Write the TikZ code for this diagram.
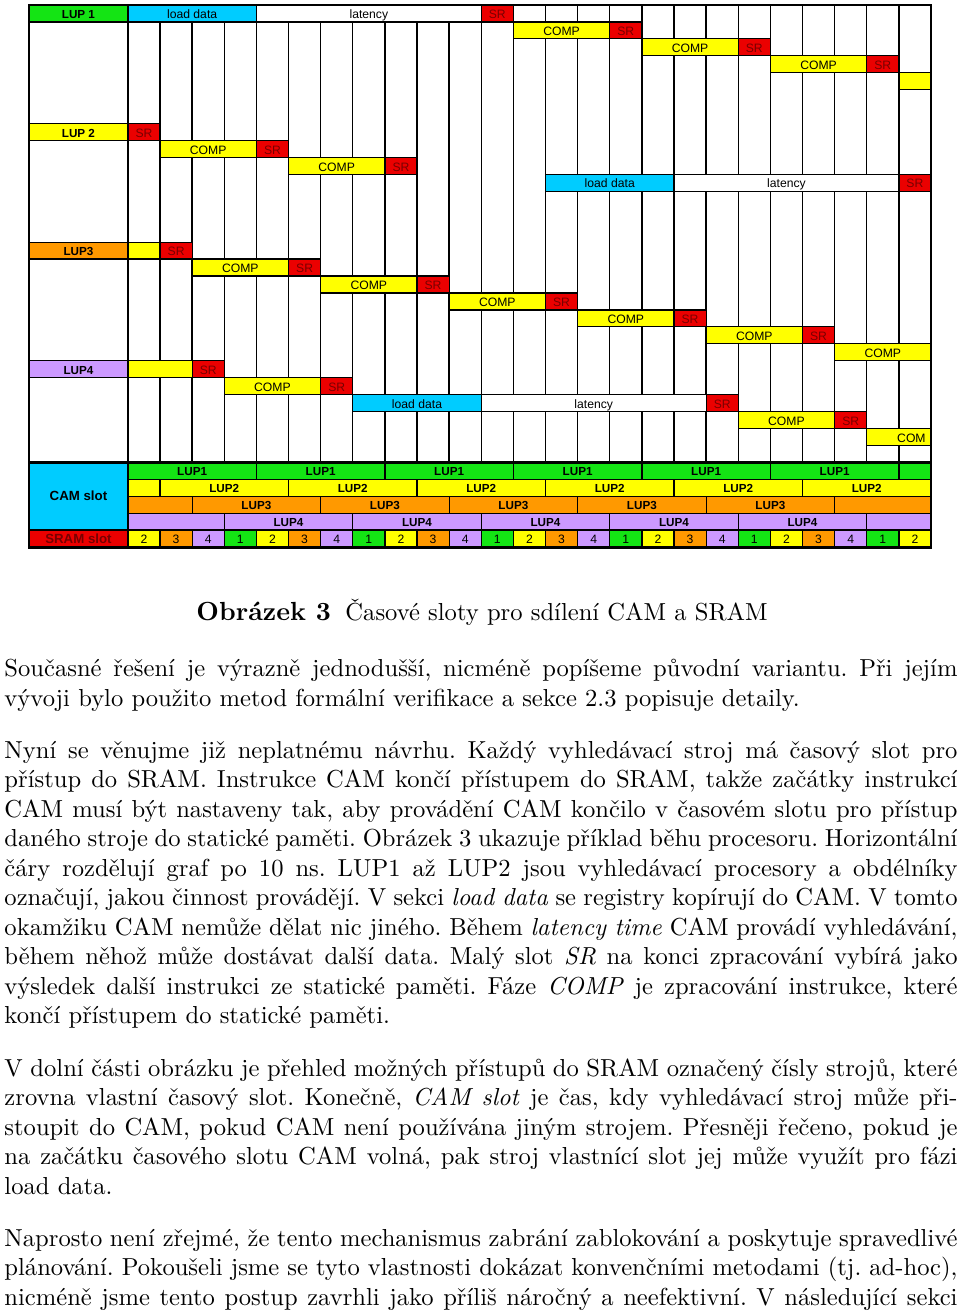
\documentclass[tikz,border=0pt]{standalone}
\usepackage{fontspec}
\newfontfamily\arialf{Liberation Sans}
\definecolor{cgreen}{RGB}{20,228,20}
\definecolor{ccyan}{RGB}{0,204,255}
\definecolor{cyellow}{RGB}{255,255,0}
\definecolor{corange}{RGB}{255,153,0}
\definecolor{cpurple}{RGB}{204,153,255}
\definecolor{cred}{RGB}{235,0,0}
\definecolor{srtext}{RGB}{120,0,0}
\colorlet{sc1}{cgreen}
\colorlet{sc2}{cyellow}
\colorlet{sc3}{corange}
\colorlet{sc4}{cpurple}
\newlength\tw
\setlength\tw{387.7pt}
\def\L{-3.079}
\tikzset{
  barsty/.style={draw=black, line width=0.5pt},
  gridsty/.style={draw=black, line width=0.55pt},
  bf/.style={font=\arialf\fontsize{4.95}{5}\selectfont, inner sep=0pt, text=black, anchor=base},
  lf/.style={font=\arialf\bfseries\fontsize{4.75}{5}\selectfont, inner sep=0pt, text=black, anchor=base},
  cf/.style={font=\arialf\bfseries\fontsize{5.4}{6}\selectfont, inner sep=0pt, text=black},
  txt/.style={anchor=base west, inner sep=0pt, font=\fontsize{10}{12}\selectfont},
}
% bar: name, row, col1, col2, fill, text
\newcommand{\gb}[6]{\path[barsty,fill=#5] (#3,#2) rectangle (#4,#2+1);
  \node[bf] (#1) at ({(#3+#4)/2},#2+0.8) {#6};}
\newcommand{\eb}[4]{\path[barsty,fill=#4] (#2,#1) rectangle (#3,#1+1);}
\newcommand{\srb}[3]{\path[barsty,fill=cred] (#3,#2) rectangle (#3+1,#2+1);
  \node[bf,text=srtext] (#1) at (#3+0.5,#2+0.8) {SR};}
\newcommand{\lab}[4]{\path[barsty,fill=#3] (\L,#2) rectangle (0,#2+1);
  \node[lf] (#1) at (\L/2,#2+0.8) {#4};}
\newcommand{\txtline}[4]{\node[txt] (#1) at (4,#2+3) {\makebox[\tw][#3]{#4}};}
\begin{document}
\frenchspacing
\begin{tikzpicture}[x=0.4068pt,y=-0.4068pt]
\useasboundingbox (0,0) rectangle (960,1313);
\begin{scope}[shift={(127.9,5)}, x=13.068pt, y=-6.891pt]
  % grid
  \foreach \j in {1,...,24} \draw[gridsty] (\j,0) -- (\j,27);
  % LUP1
  \lab{l1}{0}{cgreen}{LUP 1}
  \gb{l1ld}{0}{0}{4}{ccyan}{load data}
  \gb{l1lat}{0}{4}{11}{white}{latency}
  \srb{l1sr0}{0}{11}
  \gb{l1c1}{1}{12}{15}{cyellow}{COMP}
  \srb{l1sr1}{1}{15}
  \gb{l1c2}{2}{16}{19}{cyellow}{COMP}
  \srb{l1sr2}{2}{19}
  \gb{l1c3}{3}{20}{23}{cyellow}{COMP}
  \srb{l1sr3}{3}{23}
  \eb{4}{24}{25}{cyellow}
  % LUP2
  \lab{l2}{7}{cyellow}{LUP 2}
  \srb{l2sr0}{7}{0}
  \gb{l2c1}{8}{1}{4}{cyellow}{COMP}
  \srb{l2sr1}{8}{4}
  \gb{l2c2}{9}{5}{8}{cyellow}{COMP}
  \srb{l2sr2}{9}{8}
  \gb{l2ld}{10}{13}{17}{ccyan}{load data}
  \gb{l2lat}{10}{17}{24}{white}{latency}
  \srb{l2sr3}{10}{24}
  % LUP3
  \lab{l3}{14}{corange}{LUP3}
  \eb{14}{0}{1}{cyellow}
  \srb{l3sr0}{14}{1}
  \gb{l3c1}{15}{2}{5}{cyellow}{COMP}
  \srb{l3sr1}{15}{5}
  \gb{l3c2}{16}{6}{9}{cyellow}{COMP}
  \srb{l3sr2}{16}{9}
  \gb{l3c3}{17}{10}{13}{cyellow}{COMP}
  \srb{l3sr3}{17}{13}
  \gb{l3c4}{18}{14}{17}{cyellow}{COMP}
  \srb{l3sr4}{18}{17}
  \gb{l3c5}{19}{18}{21}{cyellow}{COMP}
  \srb{l3sr5}{19}{21}
  \gb{l3c6}{20}{22}{25}{cyellow}{COMP}
  % LUP4
  \lab{l4}{21}{cpurple}{LUP4}
  \eb{21}{0}{2}{cyellow}
  \srb{l4sr0}{21}{2}
  \gb{l4c1}{22}{3}{6}{cyellow}{COMP}
  \srb{l4sr1}{22}{6}
  \gb{l4ld}{23}{7}{11}{ccyan}{load data}
  \gb{l4lat}{23}{11}{18}{white}{latency}
  \srb{l4sr2}{23}{18}
  \gb{l4c2}{24}{19}{22}{cyellow}{COMP}
  \srb{l4sr3}{24}{22}
  \eb{25}{23}{25}{cyellow}
  \node[bf] (l4c3) at (24.39,25.8) {COM};
  % CAM slot section
  \path[fill=ccyan] (\L,27) rectangle (0,31);
  \node[cf] (camslot) at (\L/2,29) {CAM slot};
  \path[fill=cred] (\L,31) rectangle (0,32);
  \node[cf,text=srtext] (sramslot) at (\L/2,31.5) {SRAM slot};
  % row 27 LUP1
  \foreach \a/\b [count=\i] in {0/4,4/8,8/12,12/16,16/20,20/24}{
    \path[barsty,fill=cgreen] (\a,27) rectangle (\b,28);
    \node[lf] (ca\i) at ({(\a+\b)/2},27.8) {LUP1};}
  \eb{27}{24}{25}{cgreen}
  % row 28 LUP2
  \eb{28}{0}{1}{cyellow}
  \foreach \a/\b [count=\i] in {1/5,5/9,9/13,13/17,17/21,21/25}{
    \path[barsty,fill=cyellow] (\a,28) rectangle (\b,29);
    \node[lf] (cb\i) at ({(\a+\b)/2},28.8) {LUP2};}
  % row 29 LUP3
  \eb{29}{0}{2}{corange}
  \foreach \a/\b [count=\i] in {2/6,6/10,10/14,14/18,18/22}{
    \path[barsty,fill=corange] (\a,29) rectangle (\b,30);
    \node[lf] (cc\i) at ({(\a+\b)/2},29.8) {LUP3};}
  \eb{29}{22}{25}{corange}
  % row 30 LUP4
  \eb{30}{0}{3}{cpurple}
  \foreach \a/\b [count=\i] in {3/7,7/11,11/15,15/19,19/23}{
    \path[barsty,fill=cpurple] (\a,30) rectangle (\b,31);
    \node[lf] (cd\i) at ({(\a+\b)/2},30.8) {LUP4};}
  \eb{30}{23}{25}{cpurple}
  % SRAM row
  \foreach \j in {0,...,24}{
    \pgfmathtruncatemacro\n{mod(\j+1,4)+1}
    \path[barsty,fill=sc\n] (\j,31) rectangle (\j+1,32);
    \node[bf] (s\j) at (\j+0.5,31.8) {\n};}
  % thick lines
  \draw[line width=1.2pt] (\L,0) rectangle (25,32);
  \draw[line width=1pt] (0,0) -- (0,32);
  \draw[line width=1pt] (\L,27) -- (25,27);
  \draw[line width=1pt] (\L,31) -- (25,31);
\end{scope}
% caption
\node[anchor=base west, inner sep=0pt, font=\fontsize{10.65}{13}\selectfont\bfseries] (capA) at (196,620) {Obrázek 3};
\node[anchor=base west, inner sep=0pt, font=\fontsize{10}{12}\selectfont] (capB) at (345,620) {Časové sloty pro sdílení CAM a SRAM};
% paragraph 1
\txtline{a1}{673}{s}{Současné řešení je výrazně jednodušší, nicméně popíšeme původní variantu. Při jejím}
\txtline{a2}{703}{l}{vývoji bylo použito metod formální verifikace a sekce 2.3 popisuje detaily.}
% paragraph 2
\txtline{b1}{755}{s}{Nyní se věnujme již neplatnému návrhu. Každý vyhledávací stroj má časový slot pro}
\txtline{b2}{784.5}{s}{přístup do SRAM. Instrukce CAM končí přístupem do SRAM, takže začátky instrukcí}
\txtline{b3}{814}{s}{CAM musí být nastaveny tak, aby provádění CAM končilo v časovém slotu pro přístup}
\txtline{b4}{843.5}{s}{daného stroje do statické paměti. Obrázek 3 ukazuje příklad běhu procesoru. Horizontální}
\txtline{b5}{873}{s}{čáry rozdělují graf po 10 ns. LUP1 až LUP2 jsou vyhledávací procesory a obdélníky}
\txtline{b6}{902.5}{s}{označují, jakou činnost provádějí. V sekci \textit{load data} se registry kopírují do CAM. V tomto}
\txtline{b7}{932}{s}{okamžiku CAM nemůže dělat nic jiného. Během \textit{latency time} CAM provádí vyhledávání,}
\txtline{b8}{961.5}{s}{během něhož může dostávat další data. Malý slot \textit{SR} na konci zpracování vybírá jako}
\txtline{b9}{991}{s}{výsledek další instrukci ze statické paměti. Fáze \textit{COMP} je zpracování instrukce, které}
\txtline{b10}{1020.5}{l}{končí přístupem do statické paměti.}
% paragraph 3
\txtline{c1}{1073}{s}{V dolní části obrázku je přehled možných přístupů do SRAM označený čísly strojů, které}
\txtline{c2}{1102.5}{s}{zrovna vlastní časový slot. Konečně, \textit{CAM slot} je čas, kdy vyhledávací stroj může při-}
\txtline{c3}{1132}{s}{stoupit do CAM, pokud CAM není používána jiným strojem. Přesněji řečeno, pokud je}
\txtline{c4}{1161.5}{s}{na začátku časového slotu CAM volná, pak stroj vlastnící slot jej může využít pro fázi}
\txtline{c5}{1191}{l}{load data.}
% paragraph 4
\txtline{d1}{1243}{s}{Naprosto není zřejmé, že tento mechanismus zabrání zablokování a poskytuje spravedlivé}
\txtline{d2}{1272.5}{s}{plánování. Pokoušeli jsme se tyto vlastnosti dokázat konvenčními metodami (tj. ad-hoc),}
\txtline{d3}{1302}{s}{nicméně jsme tento postup zavrhli jako příliš náročný a neefektivní. V následující sekci}
\end{tikzpicture}
\end{document}
